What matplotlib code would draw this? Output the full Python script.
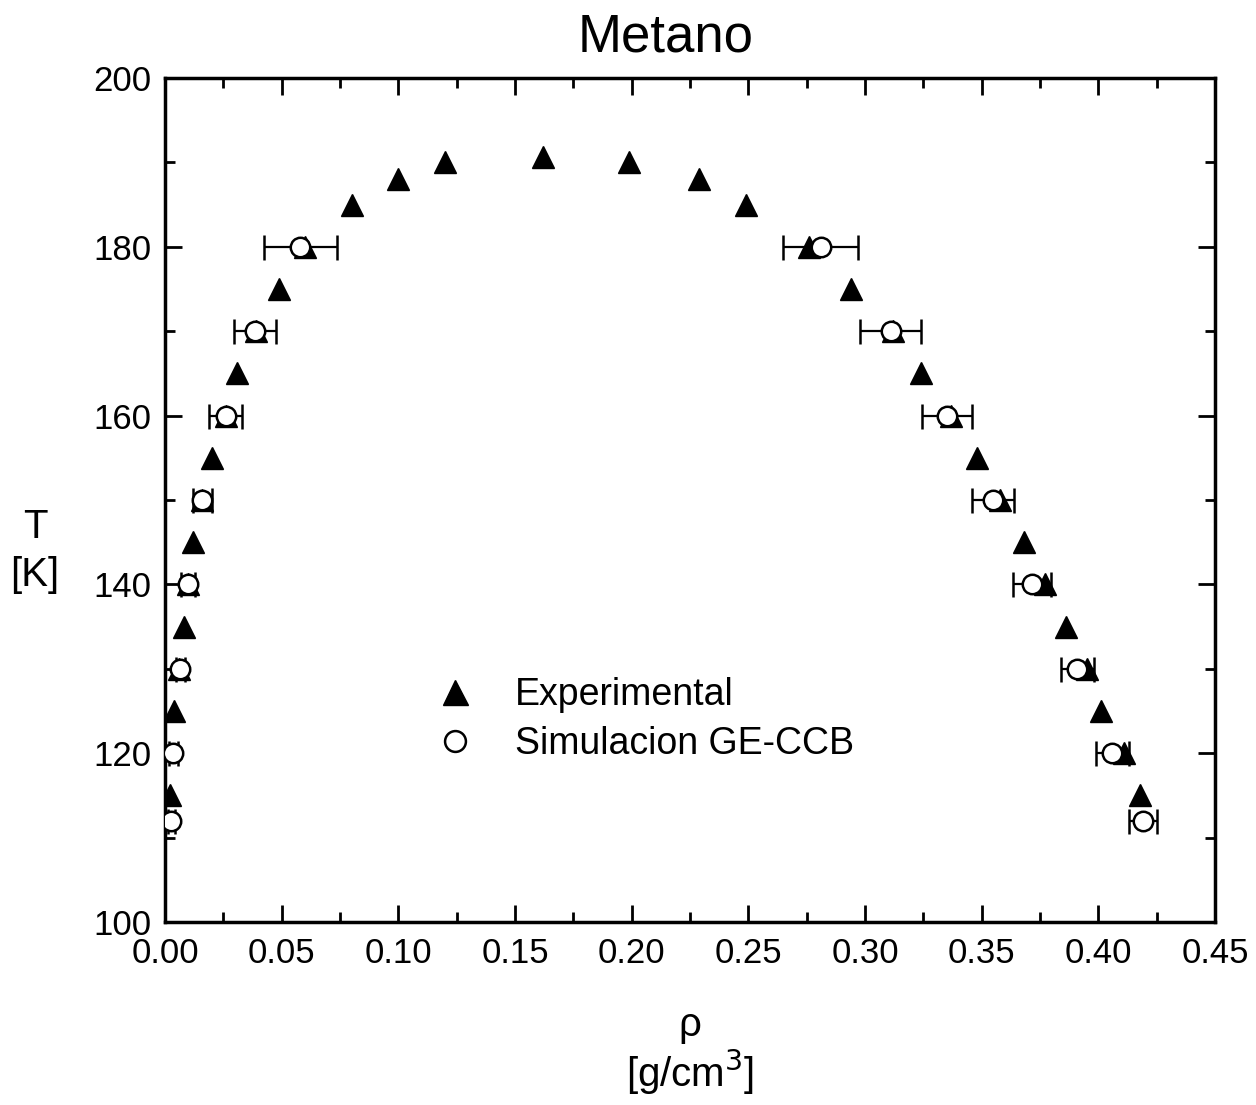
import matplotlib
matplotlib.use("Agg")
import matplotlib.pyplot as plt
from matplotlib.ticker import MultipleLocator
from matplotlib.lines import Line2D

plt.rcParams['font.family'] = ['Liberation Sans', 'DejaVu Sans']

# Experimental coexistence curve (temperature K, density g/cm3)
exp_T = [115, 125, 130, 135, 140, 145, 150, 155, 160, 165,
         170, 175, 180, 185, 188, 190, 190.6,
         190, 188, 185, 180, 175, 170, 165, 160, 155,
         150, 145, 140, 135, 130, 125, 120, 115]
exp_rho = [0.002, 0.004, 0.006, 0.008, 0.010, 0.012, 0.016, 0.020, 0.026, 0.031,
           0.039, 0.049, 0.060, 0.080, 0.100, 0.120, 0.162,
           0.199, 0.229, 0.249, 0.276, 0.294, 0.312, 0.324, 0.337, 0.348,
           0.358, 0.368, 0.377, 0.386, 0.395, 0.401, 0.411, 0.418]

# Simulation GE-CCB (vapour and liquid branches)
sim_T = [112, 120, 130, 140, 150, 160, 170, 180,
         180, 170, 160, 150, 140, 130, 120, 112]
sim_rho = [0.0026, 0.0035, 0.0065, 0.010, 0.016, 0.026, 0.0386, 0.058,
           0.281, 0.311, 0.335, 0.355, 0.3716, 0.391, 0.406, 0.419]
sim_err = [0.0015, 0.002, 0.002, 0.003, 0.004, 0.007, 0.009, 0.0155,
           0.016, 0.013, 0.0107, 0.009, 0.008, 0.007, 0.007, 0.006]

fig = plt.figure(figsize=(12.56, 11.05), dpi=100)
ax = fig.add_axes([0.1314, 0.1656, 0.836, 0.7638])

ax.plot(exp_rho, exp_T, linestyle='none', marker='^', markersize=16,
        color='black', zorder=2)
ax.errorbar(sim_rho, sim_T, xerr=sim_err, linestyle='none', marker='o',
            markersize=14, markerfacecolor='white', markeredgecolor='black',
            markeredgewidth=1.8, ecolor='black', elinewidth=1.6, capsize=9,
            capthick=1.6, zorder=3)

ax.set_xlim(0, 0.45)
ax.set_ylim(100, 200)
ax.xaxis.set_major_locator(MultipleLocator(0.05))
ax.xaxis.set_minor_locator(MultipleLocator(0.025))
ax.yaxis.set_major_locator(MultipleLocator(20))
ax.yaxis.set_minor_locator(MultipleLocator(10))
ax.set_xticklabels([f"{v:.2f}" for v in ax.get_xticks()])

ax.tick_params(which='both', direction='in', top=True, right=True, width=2,
               labelsize=25)
ax.tick_params(axis='x', pad=11)
ax.tick_params(axis='y', pad=10)
ax.tick_params(which='major', length=12)
ax.tick_params(which='minor', length=7)
for s in ax.spines.values():
    s.set_linewidth(2.5)

fig.text(666 / 1256, 1 - 38 / 1105, "Metano", fontsize=38,
         ha='center', va='center')
fig.text(690 / 1256, 1 - 1025 / 1105, "ρ", fontsize=29,
         ha='center', va='center')
fig.text(690 / 1256, 1 - 1072 / 1105, "[g/cm$^3$]", fontsize=29,
         ha='center', va='center')
fig.text(35 / 1256, 1 - 527 / 1105, "T", fontsize=29,
         ha='center', va='center')
fig.text(35 / 1256, 1 - 575 / 1105, "[K]", fontsize=29,
         ha='center', va='center')

handles = [Line2D([], [], linestyle='none', marker='^', markersize=18,
                  color='black'),
           Line2D([], [], linestyle='none', marker='o', markersize=15,
                  markerfacecolor='white', markeredgecolor='black',
                  markeredgewidth=1.8)]
ax.legend(handles, ['Experimental', 'Simulacion GE-CCB'], loc='center left',
          bbox_to_anchor=(0.24, 0.24), frameon=False, fontsize=27,
          handletextpad=1.0, handlelength=1.2, labelspacing=0.35,
          borderaxespad=0)

fig.savefig("out.png", dpi=100)
